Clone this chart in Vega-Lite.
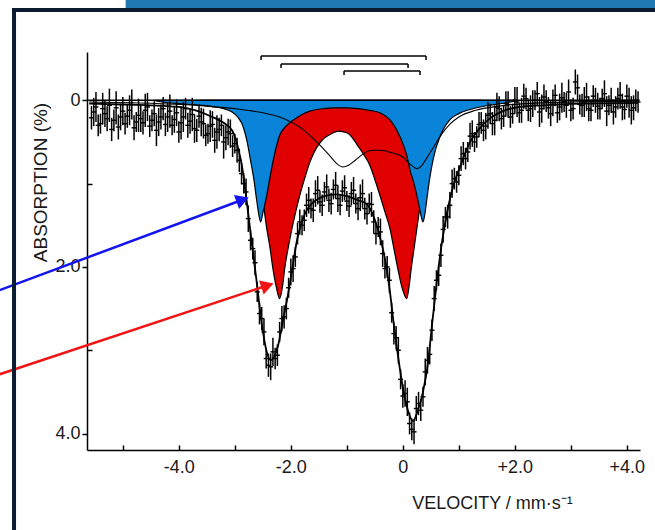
{
 "$schema": "https://vega.github.io/schema/vega-lite/v6.json",
 "width": 553,
 "height": 398,
 "autosize": "none",
 "padding": {"left": 87, "top": 52, "right": 15, "bottom": 80},
 "background": "white",
 "config": {"view": {"stroke": null}, "font": "Liberation Sans"},
 "datasets": {
  "blue": [{"v":-4.45,"a":0},{"v":-4.3,"a":0.02},{"v":-4.0,"a":0.04},{"v":-3.7,"a":0.055},{"v":-3.4,"a":0.075},{"v":-3.2,"a":0.1},{"v":-3.05,"a":0.14},{"v":-2.95,"a":0.2},{"v":-2.85,"a":0.32},{"v":-2.78,"a":0.5},{"v":-2.72,"a":0.72},{"v":-2.66,"a":0.95},{"v":-2.61,"a":1.2},{"v":-2.57,"a":1.38},{"v":-2.54,"a":1.46},{"v":-2.5,"a":1.35},{"v":-2.43,"a":1.14},{"v":-2.38,"a":0.95},{"v":-2.32,"a":0.74},{"v":-2.26,"a":0.56},{"v":-2.2,"a":0.42},{"v":-2.1,"a":0.32},{"v":-1.96,"a":0.24},{"v":-1.8,"a":0.17},{"v":-1.66,"a":0.13},{"v":-1.43,"a":0.1},{"v":-1.2,"a":0.09},{"v":-1.0,"a":0.09},{"v":-0.8,"a":0.1},{"v":-0.6,"a":0.12},{"v":-0.41,"a":0.15},{"v":-0.2,"a":0.26},{"v":-0.1,"a":0.37},{"v":0.0,"a":0.52},{"v":0.07,"a":0.66},{"v":0.13,"a":0.84},{"v":0.2,"a":1.0},{"v":0.25,"a":1.14},{"v":0.3,"a":1.3},{"v":0.33,"a":1.4},{"v":0.36,"a":1.46},{"v":0.39,"a":1.38},{"v":0.43,"a":1.18},{"v":0.47,"a":0.98},{"v":0.52,"a":0.78},{"v":0.58,"a":0.6},{"v":0.65,"a":0.46},{"v":0.73,"a":0.34},{"v":0.83,"a":0.24},{"v":1.0,"a":0.16},{"v":1.2,"a":0.11},{"v":1.5,"a":0.065},{"v":1.8,"a":0.035},{"v":2.05,"a":0}],
  "red": [{"v":-3.6,"a":0},{"v":-3.3,"a":0.03},{"v":-3.1,"a":0.1},{"v":-2.9,"a":0.22},{"v":-2.7,"a":0.5},{"v":-2.55,"a":0.95},{"v":-2.43,"a":1.54},{"v":-2.37,"a":1.78},{"v":-2.32,"a":2.02},{"v":-2.26,"a":2.24},{"v":-2.2,"a":2.38},{"v":-2.15,"a":2.24},{"v":-2.11,"a":2.02},{"v":-2.05,"a":1.78},{"v":-1.98,"a":1.54},{"v":-1.91,"a":1.33},{"v":-1.84,"a":1.14},{"v":-1.75,"a":0.93},{"v":-1.66,"a":0.74},{"v":-1.55,"a":0.58},{"v":-1.43,"a":0.47},{"v":-1.3,"a":0.41},{"v":-1.15,"a":0.37},{"v":-1.0,"a":0.39},{"v":-0.9,"a":0.45},{"v":-0.82,"a":0.53},{"v":-0.7,"a":0.65},{"v":-0.59,"a":0.78},{"v":-0.5,"a":0.95},{"v":-0.41,"a":1.14},{"v":-0.32,"a":1.34},{"v":-0.23,"a":1.54},{"v":-0.16,"a":1.78},{"v":-0.09,"a":2.02},{"v":-0.01,"a":2.26},{"v":0.07,"a":2.38},{"v":0.11,"a":2.24},{"v":0.15,"a":2.02},{"v":0.2,"a":1.78},{"v":0.25,"a":1.54},{"v":0.32,"a":1.22},{"v":0.42,"a":0.88},{"v":0.55,"a":0.55},{"v":0.7,"a":0.3},{"v":0.9,"a":0.14},{"v":1.1,"a":0.06},{"v":1.4,"a":0}],
  "thin": [{"v":-5.6,"a":0.02},{"v":-4.5,"a":0.035},{"v":-3.5,"a":0.07},{"v":-3.0,"a":0.1},{"v":-2.5,"a":0.15},{"v":-2.2,"a":0.2},{"v":-2.0,"a":0.26},{"v":-1.8,"a":0.34},{"v":-1.6,"a":0.46},{"v":-1.45,"a":0.56},{"v":-1.3,"a":0.67},{"v":-1.18,"a":0.76},{"v":-1.07,"a":0.8},{"v":-0.97,"a":0.78},{"v":-0.85,"a":0.72},{"v":-0.7,"a":0.64},{"v":-0.55,"a":0.6},{"v":-0.4,"a":0.6},{"v":-0.2,"a":0.63},{"v":0.0,"a":0.68},{"v":0.12,"a":0.76},{"v":0.25,"a":0.82},{"v":0.33,"a":0.79},{"v":0.42,"a":0.7},{"v":0.55,"a":0.56},{"v":0.7,"a":0.4},{"v":0.85,"a":0.28},{"v":1.0,"a":0.2},{"v":1.3,"a":0.12},{"v":1.7,"a":0.07},{"v":2.2,"a":0.04},{"v":3.0,"a":0.02},{"v":4.2,"a":0.01}],
  "fit": [{"v":-5.6,"a":0.04},{"v":-5.0,"a":0.05},{"v":-4.5,"a":0.06},{"v":-4.0,"a":0.08},{"v":-3.7,"a":0.12},{"v":-3.4,"a":0.2},{"v":-3.2,"a":0.27},{"v":-3.05,"a":0.36},{"v":-2.95,"a":0.55},{"v":-2.87,"a":0.8},{"v":-2.79,"a":1.2},{"v":-2.7,"a":1.7},{"v":-2.61,"a":2.18},{"v":-2.52,"a":2.68},{"v":-2.43,"a":3.02},{"v":-2.36,"a":3.12},{"v":-2.3,"a":3.08},{"v":-2.23,"a":2.95},{"v":-2.14,"a":2.64},{"v":-2.05,"a":2.33},{"v":-1.97,"a":2.0},{"v":-1.89,"a":1.68},{"v":-1.8,"a":1.45},{"v":-1.7,"a":1.3},{"v":-1.55,"a":1.2},{"v":-1.4,"a":1.15},{"v":-1.2,"a":1.13},{"v":-1.0,"a":1.15},{"v":-0.8,"a":1.2},{"v":-0.64,"a":1.25},{"v":-0.52,"a":1.4},{"v":-0.41,"a":1.64},{"v":-0.32,"a":1.9},{"v":-0.23,"a":2.3},{"v":-0.16,"a":2.7},{"v":-0.09,"a":3.05},{"v":0.0,"a":3.45},{"v":0.09,"a":3.72},{"v":0.18,"a":3.85},{"v":0.27,"a":3.72},{"v":0.36,"a":3.5},{"v":0.45,"a":3.15},{"v":0.52,"a":2.7},{"v":0.61,"a":2.16},{"v":0.7,"a":1.7},{"v":0.79,"a":1.35},{"v":0.89,"a":1.05},{"v":1.02,"a":0.8},{"v":1.2,"a":0.5},{"v":1.38,"a":0.33},{"v":1.55,"a":0.22},{"v":1.79,"a":0.13},{"v":2.09,"a":0.08},{"v":2.5,"a":0.06},{"v":3.2,"a":0.04},{"v":4.2,"a":0.03}],
  "pts": [{"v":-5.56,"a":0.21,"e":0.14},{"v":-5.48,"a":0.08,"e":0.18},{"v":-5.4,"a":0.28,"e":0.12},{"v":-5.32,"a":0.16,"e":0.16},{"v":-5.24,"a":0.06,"e":0.2},{"v":-5.16,"a":0.24,"e":0.13},{"v":-5.08,"a":0.32,"e":0.15},{"v":-5.0,"a":0.13,"e":0.17},{"v":-4.92,"a":0.19,"e":0.14},{"v":-4.84,"a":0.05,"e":0.18},{"v":-4.76,"a":0.26,"e":0.12},{"v":-4.68,"a":0.22,"e":0.16},{"v":-4.6,"a":0.12,"e":0.2},{"v":-4.52,"a":0.31,"e":0.13},{"v":-4.44,"a":0.16,"e":0.15},{"v":-4.36,"a":0.26,"e":0.17},{"v":-4.28,"a":0.1,"e":0.14},{"v":-4.2,"a":0.2,"e":0.18},{"v":-4.12,"a":0.3,"e":0.12},{"v":-4.04,"a":0.15,"e":0.16},{"v":-3.96,"a":0.27,"e":0.2},{"v":-3.88,"a":0.1,"e":0.13},{"v":-3.8,"a":0.25,"e":0.15},{"v":-3.72,"a":0.34,"e":0.17},{"v":-3.64,"a":0.19,"e":0.14},{"v":-3.56,"a":0.28,"e":0.18},{"v":-3.48,"a":0.4,"e":0.12},{"v":-3.4,"a":0.29,"e":0.16},{"v":-3.32,"a":0.38,"e":0.2},{"v":-3.24,"a":0.3,"e":0.13},{"v":-3.16,"a":0.45,"e":0.15},{"v":-3.08,"a":0.4,"e":0.17},{"v":-3.0,"a":0.52,"e":0.12},{"v":-2.92,"a":0.72,"e":0.14},{"v":-2.84,"a":1.0,"e":0.12},{"v":-2.76,"a":1.42,"e":0.16},{"v":-2.68,"a":1.78,"e":0.13},{"v":-2.6,"a":2.3,"e":0.12},{"v":-2.52,"a":2.62,"e":0.14},{"v":-2.44,"a":3.1,"e":0.12},{"v":-2.36,"a":3.2,"e":0.16},{"v":-2.28,"a":3.1,"e":0.13},{"v":-2.2,"a":2.78,"e":0.12},{"v":-2.12,"a":2.6,"e":0.14},{"v":-2.04,"a":2.25,"e":0.12},{"v":-1.96,"a":2.02,"e":0.16},{"v":-1.88,"a":1.6,"e":0.13},{"v":-1.8,"a":1.5,"e":0.12},{"v":-1.72,"a":1.26,"e":0.14},{"v":-1.64,"a":1.3,"e":0.12},{"v":-1.56,"a":1.12,"e":0.16},{"v":-1.48,"a":1.22,"e":0.13},{"v":-1.4,"a":1.1,"e":0.12},{"v":-1.32,"a":1.2,"e":0.14},{"v":-1.24,"a":1.07,"e":0.12},{"v":-1.16,"a":1.18,"e":0.16},{"v":-1.08,"a":1.09,"e":0.13},{"v":-1.0,"a":1.21,"e":0.12},{"v":-0.92,"a":1.12,"e":0.14},{"v":-0.84,"a":1.24,"e":0.12},{"v":-0.76,"a":1.17,"e":0.16},{"v":-0.68,"a":1.3,"e":0.13},{"v":-0.6,"a":1.24,"e":0.12},{"v":-0.52,"a":1.46,"e":0.14},{"v":-0.44,"a":1.52,"e":0.12},{"v":-0.36,"a":1.84,"e":0.16},{"v":-0.28,"a":2.0,"e":0.13},{"v":-0.2,"a":2.55,"e":0.12},{"v":-0.12,"a":2.85,"e":0.14},{"v":-0.04,"a":3.35,"e":0.12},{"v":0.04,"a":3.52,"e":0.16},{"v":0.12,"a":3.88,"e":0.13},{"v":0.2,"a":3.98,"e":0.15},{"v":0.28,"a":3.64,"e":0.14},{"v":0.36,"a":3.56,"e":0.12},{"v":0.44,"a":3.12,"e":0.16},{"v":0.52,"a":2.76,"e":0.13},{"v":0.6,"a":2.16,"e":0.12},{"v":0.68,"a":1.86,"e":0.14},{"v":0.76,"a":1.4,"e":0.12},{"v":0.84,"a":1.26,"e":0.16},{"v":0.92,"a":0.94,"e":0.13},{"v":1.0,"a":0.9,"e":0.12},{"v":1.08,"a":0.64,"e":0.14},{"v":1.16,"a":0.62,"e":0.12},{"v":1.24,"a":0.4,"e":0.16},{"v":1.32,"a":0.44,"e":0.13},{"v":1.4,"a":0.27,"e":0.13},{"v":1.48,"a":0.31,"e":0.16},{"v":1.56,"a":0.16,"e":0.12},{"v":1.64,"a":0.24,"e":0.18},{"v":1.72,"a":0.1,"e":0.15},{"v":1.8,"a":0.19,"e":0.13},{"v":1.88,"a":0.05,"e":0.16},{"v":1.96,"a":0.16,"e":0.12},{"v":2.04,"a":0.02,"e":0.18},{"v":2.12,"a":0.12,"e":0.15},{"v":2.2,"a":-0.02,"e":0.13},{"v":2.28,"a":0.1,"e":0.16},{"v":2.36,"a":0.0,"e":0.12},{"v":2.44,"a":0.14,"e":0.18},{"v":2.52,"a":-0.04,"e":0.15},{"v":2.6,"a":0.09,"e":0.13},{"v":2.68,"a":0.03,"e":0.16},{"v":2.76,"a":0.15,"e":0.12},{"v":2.84,"a":-0.03,"e":0.18},{"v":2.92,"a":0.06,"e":0.15},{"v":3.0,"a":0.12,"e":0.13},{"v":3.08,"a":-0.22,"e":0.15},{"v":3.16,"a":0.05,"e":0.12},{"v":3.24,"a":0.02,"e":0.18},{"v":3.32,"a":0.1,"e":0.15},{"v":3.4,"a":-0.05,"e":0.13},{"v":3.48,"a":0.07,"e":0.16},{"v":3.56,"a":-0.02,"e":0.12},{"v":3.64,"a":0.13,"e":0.18},{"v":3.72,"a":0.0,"e":0.15},{"v":3.8,"a":0.08,"e":0.13},{"v":3.88,"a":-0.06,"e":0.16},{"v":3.96,"a":0.11,"e":0.12},{"v":4.04,"a":0.03,"e":0.18},{"v":4.12,"a":0.09,"e":0.15},{"v":4.2,"a":0.02,"e":0.13},
   {"v":-5.52,"a":0.14,"e":0.17},{"v":-5.44,"a":0.3,"e":0.13},{"v":-5.36,"a":0.1,"e":0.19},{"v":-5.28,"a":0.22,"e":0.15},{"v":-5.2,"a":0.35,"e":0.14},{"v":-5.12,"a":0.09,"e":0.2},{"v":-5.04,"a":0.2,"e":0.16},{"v":-4.96,"a":0.28,"e":0.13},{"v":-4.88,"a":0.12,"e":0.18},{"v":-4.8,"a":0.33,"e":0.15},{"v":-4.72,"a":0.18,"e":0.2},{"v":-4.64,"a":0.27,"e":0.14},{"v":-4.56,"a":0.08,"e":0.17},{"v":-4.48,"a":0.24,"e":0.13},{"v":-4.4,"a":0.36,"e":0.19},{"v":-4.32,"a":0.2,"e":0.15},{"v":-4.24,"a":0.29,"e":0.14},{"v":-4.16,"a":0.13,"e":0.2},{"v":-4.08,"a":0.23,"e":0.16},{"v":-4.0,"a":0.38,"e":0.13},{"v":-3.92,"a":0.2,"e":0.18},{"v":-3.84,"a":0.3,"e":0.15},{"v":-3.76,"a":0.17,"e":0.2},{"v":-3.68,"a":0.36,"e":0.14},{"v":-3.6,"a":0.26,"e":0.17},{"v":-3.52,"a":0.42,"e":0.13},{"v":-3.44,"a":0.31,"e":0.19},{"v":-3.36,"a":0.48,"e":0.15},{"v":-3.28,"a":0.35,"e":0.14},{"v":-3.2,"a":0.5,"e":0.2},{"v":-3.12,"a":0.38,"e":0.16},{"v":-3.04,"a":0.55,"e":0.13},{"v":-2.96,"a":0.6,"e":0.15},{"v":-2.88,"a":0.88,"e":0.13},{"v":-2.8,"a":1.1,"e":0.16},{"v":-2.72,"a":1.68,"e":0.12},{"v":-2.64,"a":1.95,"e":0.15},{"v":-2.56,"a":2.56,"e":0.13},{"v":-2.48,"a":2.78,"e":0.16},{"v":-2.4,"a":3.18,"e":0.14},{"v":-2.32,"a":3.02,"e":0.17},{"v":-2.24,"a":3.06,"e":0.13},{"v":-2.16,"a":2.62,"e":0.15},{"v":-2.08,"a":2.5,"e":0.13},{"v":-2.0,"a":2.06,"e":0.16},{"v":-1.92,"a":1.88,"e":0.12},{"v":-1.84,"a":1.46,"e":0.15},{"v":-1.76,"a":1.44,"e":0.13},{"v":-1.68,"a":1.2,"e":0.16},{"v":-1.6,"a":1.32,"e":0.14},{"v":-1.52,"a":1.08,"e":0.17},{"v":-1.44,"a":1.26,"e":0.13},{"v":-1.36,"a":1.04,"e":0.15},{"v":-1.28,"a":1.24,"e":0.13},{"v":-1.2,"a":1.02,"e":0.16},{"v":-1.12,"a":1.26,"e":0.12},{"v":-1.04,"a":1.05,"e":0.15},{"v":-0.96,"a":1.27,"e":0.13},{"v":-0.88,"a":1.08,"e":0.16},{"v":-0.8,"a":1.3,"e":0.14},{"v":-0.72,"a":1.12,"e":0.17},{"v":-0.64,"a":1.36,"e":0.13},{"v":-0.56,"a":1.25,"e":0.15},{"v":-0.48,"a":1.6,"e":0.13},{"v":-0.4,"a":1.58,"e":0.16},{"v":-0.32,"a":2.02,"e":0.12},{"v":-0.24,"a":2.16,"e":0.15},{"v":-0.16,"a":2.8,"e":0.13},{"v":-0.08,"a":3.0,"e":0.16},{"v":0.0,"a":3.55,"e":0.14},{"v":0.08,"a":3.62,"e":0.17},{"v":0.16,"a":3.95,"e":0.13},{"v":0.24,"a":3.7,"e":0.15},{"v":0.32,"a":3.72,"e":0.13},{"v":0.4,"a":3.26,"e":0.16},{"v":0.48,"a":3.05,"e":0.12},{"v":0.56,"a":2.38,"e":0.15},{"v":0.64,"a":2.1,"e":0.13},{"v":0.72,"a":1.55,"e":0.16},{"v":0.8,"a":1.4,"e":0.14},{"v":0.88,"a":1.0,"e":0.17},{"v":0.96,"a":0.98,"e":0.13},{"v":1.04,"a":0.7,"e":0.15},{"v":1.12,"a":0.7,"e":0.13},{"v":1.2,"a":0.43,"e":0.16},{"v":1.28,"a":0.5,"e":0.12},{"v":1.36,"a":0.29,"e":0.15},{"v":1.44,"a":0.36,"e":0.13},{"v":1.52,"a":0.18,"e":0.16},{"v":1.6,"a":0.28,"e":0.14},{"v":1.68,"a":0.08,"e":0.17},{"v":1.76,"a":0.22,"e":0.13},{"v":1.84,"a":0.04,"e":0.15},{"v":1.92,"a":0.2,"e":0.13},{"v":2.0,"a":0.0,"e":0.16},{"v":2.08,"a":0.15,"e":0.12},{"v":2.16,"a":-0.05,"e":0.15},{"v":2.24,"a":0.12,"e":0.13},{"v":2.32,"a":0.04,"e":0.16},{"v":2.4,"a":-0.08,"e":0.14},{"v":2.48,"a":0.1,"e":0.17},{"v":2.56,"a":0.01,"e":0.13},{"v":2.64,"a":0.16,"e":0.15},{"v":2.72,"a":-0.06,"e":0.13},{"v":2.8,"a":0.08,"e":0.16},{"v":2.88,"a":0.02,"e":0.12},{"v":2.96,"a":-0.1,"e":0.15},{"v":3.04,"a":0.1,"e":0.13},{"v":3.12,"a":-0.15,"e":0.16},{"v":3.2,"a":0.06,"e":0.14},{"v":3.28,"a":-0.04,"e":0.17},{"v":3.36,"a":0.12,"e":0.13},{"v":3.44,"a":0.0,"e":0.15},{"v":3.52,"a":0.1,"e":0.13},{"v":3.6,"a":-0.08,"e":0.16},{"v":3.68,"a":0.06,"e":0.12},{"v":3.76,"a":0.14,"e":0.15},{"v":3.84,"a":-0.02,"e":0.13},{"v":3.92,"a":0.08,"e":0.16},{"v":4.0,"a":-0.05,"e":0.14},{"v":4.08,"a":0.12,"e":0.17},{"v":4.16,"a":0.0,"e":0.13}],
  "zero": [{"v":-5.62,"v2":4.23,"a":0}],
  "brackets": [{"v":-2.532,"v2":0.414,"a":-0.532},{"v":-2.175,"v2":0.093,"a":-0.436},{"v":-1.05,"v2":0.307,"a":-0.352}],
  "bends": [{"v":-2.532,"a":-0.532,"a2":-0.484},{"v":0.414,"a":-0.532,"a2":-0.484},{"v":-2.175,"a":-0.436,"a2":-0.388},{"v":0.093,"a":-0.436,"a2":-0.388},{"v":-1.05,"a":-0.352,"a2":-0.304},{"v":0.307,"a":-0.352,"a2":-0.304}],
  "arrows": [{"k":"b","v":-7.2,"a":2.279,"v2":-2.862,"a2":1.194},{"k":"r","v":-7.2,"a":3.288,"v2":-2.418,"a2":2.223}],
  "heads": [{"k":"b","v":-2.862,"a":1.194},{"k":"r","v":-2.418,"a":2.223}],
  "topbar": [{"v":-4.95,"v2":4.8,"a":-1.26,"a2":-1.09}],
  "frame": [{"v":-6.943,"a":-1.105,"v2":-6.943,"a2":5.3},{"v":-6.98,"a":-1.084,"v2":4.8,"a2":-1.084}]
 },
 "encoding": {
  "x": {"field": "v", "type": "quantitative",
   "scale": {"domain": [-5.64, 4.235], "nice": false, "zero": false},
   "axis": {"values": [-5,-4,-3,-2,-1,0,1,2,3,4],
    "labelExpr": "datum.value == -4 ? '-4.0' : datum.value == -2 ? '-2.0' : datum.value == 0 ? '0' : datum.value == 2 ? '+2.0' : datum.value == 4 ? '+4.0' : ''",
    "title": "VELOCITY / mm·s⁻¹", "grid": false,
    "domainColor": "#000000", "domainWidth": 1.5, "tickColor": "#000000", "tickWidth": 1.5, "tickSize": -5,
    "labelPadding": 13, "labelFontSize": 18, "labelColor": "#1a1a1a", "labelFont": "Liberation Sans",
    "labelFlush": false, "labelOverlap": false,
    "titleFont": "Liberation Sans", "titleFontSize": 18, "titleFontWeight": "normal", "titleColor": "#1a1a1a",
    "titleX": 405, "titleY": 58, "titleBaseline": "alphabetic", "titleAlign": "center"}},
  "y": {"field": "a", "type": "quantitative",
   "scale": {"domain": [-0.58, 4.198], "reverse": true, "nice": false, "zero": false},
   "axis": {"values": [0,1,2,3,4],
    "labelExpr": "datum.value == 0 ? '0' : datum.value == 2 ? '2.0' : datum.value == 4 ? '4.0' : ''",
    "title": "ABSORPTION (%)", "grid": false,
    "domainColor": "#000000", "domainWidth": 1.5, "tickColor": "#000000", "tickWidth": 1.5,
    "tickSize": {"condition": {"test": "datum.value % 2 == 0", "value": 5}, "value": -5},
    "labelPadding": 2, "labelFontSize": 18, "labelColor": "#1a1a1a", "labelFont": "Liberation Sans",
    "labelFlush": false, "labelOverlap": false,
    "titleFont": "Liberation Sans", "titleFontSize": 19, "titleFontWeight": "normal", "titleColor": "#1a1a1a",
    "titleX": -47, "titleY": 130, "titleAngle": -90, "titleBaseline": "middle", "titleAlign": "center"}}
 },
 "layer": [
  {"data": {"name": "red"}, "mark": {"type": "area", "fill": "#e00000", "stroke": "#000000", "strokeWidth": 1.2, "opacity": 1, "fillOpacity": 1, "interpolate": "monotone"}, "encoding": {"y2": {"datum": 0}}},
  {"data": {"name": "blue"}, "mark": {"type": "area", "fill": "#0a84d8", "stroke": "#000000", "strokeWidth": 1.2, "opacity": 1, "fillOpacity": 1, "interpolate": "monotone"}, "encoding": {"y2": {"datum": 0}}},
  {"data": {"name": "zero"}, "mark": {"type": "rule", "color": "#000000", "strokeWidth": 1.5}, "encoding": {"x2": {"field": "v2"}}},
  {"data": {"name": "thin"}, "mark": {"type": "line", "color": "#000000", "strokeWidth": 1.1, "interpolate": "monotone"}},
  {"data": {"name": "fit"}, "mark": {"type": "line", "color": "#000000", "strokeWidth": 1.8, "interpolate": "monotone"}},
  {"data": {"name": "pts"}, "mark": {"type": "errorbar", "color": "#000000", "thickness": 1.5}, "encoding": {"yError": {"field": "e"}}},
  {"data": {"name": "pts"}, "mark": {"type": "point", "shape": "stroke", "size": 25, "strokeWidth": 1.4, "color": "#000000", "opacity": 1}},
  {"data": {"name": "brackets"}, "mark": {"type": "rule", "color": "#000000", "strokeWidth": 1.5}, "encoding": {"x2": {"field": "v2"}}},
  {"data": {"name": "bends"}, "mark": {"type": "rule", "color": "#000000", "strokeWidth": 1.5}, "encoding": {"y2": {"field": "a2"}}},
  {"data": {"name": "arrows"}, "transform": [{"filter": "datum.k == 'b'"}], "mark": {"type": "rule", "color": "#1414f0", "strokeWidth": 2.5}, "encoding": {"x2": {"field": "v2"}, "y2": {"field": "a2"}}},
  {"data": {"name": "arrows"}, "transform": [{"filter": "datum.k == 'r'"}], "mark": {"type": "rule", "color": "#f01414", "strokeWidth": 2.5}, "encoding": {"x2": {"field": "v2"}, "y2": {"field": "a2"}}},
  {"data": {"name": "heads"}, "transform": [{"filter": "datum.k == 'b'"}], "mark": {"type": "point", "shape": "triangle-right", "angle": 339.6, "size": 220, "filled": true, "color": "#1414f0", "opacity": 1}},
  {"data": {"name": "heads"}, "transform": [{"filter": "datum.k == 'r'"}], "mark": {"type": "point", "shape": "triangle-right", "angle": 341.7, "size": 220, "filled": true, "color": "#f01414", "opacity": 1}},
  {"data": {"name": "topbar"}, "mark": {"type": "rect", "color": "#1f7ab4", "opacity": 1}, "encoding": {"x2": {"field": "v2"}, "y2": {"field": "a2"}}},
  {"data": {"name": "frame"}, "mark": {"type": "rule", "color": "#0d1b31", "strokeWidth": 4}, "encoding": {"x2": {"field": "v2"}, "y2": {"field": "a2"}}}
 ]
}
